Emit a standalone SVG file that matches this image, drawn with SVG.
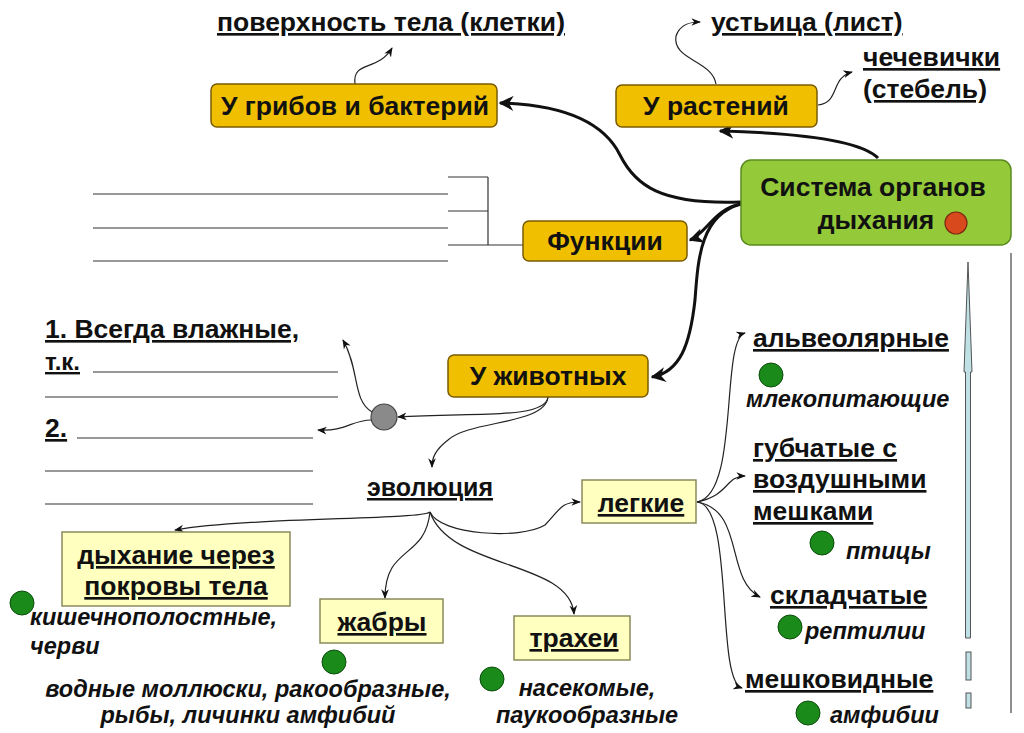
<svg xmlns="http://www.w3.org/2000/svg" width="1024" height="733" viewBox="0 0 1024 733">
<style>
text{font-family:"Liberation Sans",Arial,sans-serif;font-weight:bold;fill:#111}
.u{text-decoration:underline}
.it{font-style:italic;font-size:23.5px}
.h{font-size:26.5px}
.box{fill:#F0C000;stroke:#7a5a00;stroke-width:1.5}
.lbox{fill:#FFFFC0;stroke:#8a8a5a;stroke-width:1.5}
.thick{fill:none;stroke:#111;stroke-width:3}
.thin{fill:none;stroke:#222;stroke-width:1.2}
.gl{stroke:#333;stroke-width:1.2}
.gc{fill:#1a8a1a;stroke:#0d4d0d;stroke-width:1}
</style>
<defs>
<marker id="ah" viewBox="0 0 10 10" refX="9" refY="5" markerWidth="5" markerHeight="5" orient="auto" markerUnits="strokeWidth"><path d="M0,0 L10,5 L0,10 L3,5 z" fill="#111"/></marker>
<marker id="as" viewBox="0 0 10 10" refX="9" refY="5" markerWidth="8" markerHeight="8" orient="auto" markerUnits="strokeWidth"><path d="M0,1 L10,5 L0,9 L3,5 z" fill="#111"/></marker>
</defs>
<rect width="1024" height="733" fill="#fff"/>

<g id="connectors">
<path class="thick" marker-end="url(#ah)" d="M878,158 C860,140 800,133 720,131"/>
<path class="thick" marker-end="url(#ah)" d="M741,202 C660,205 635,185 620,155 C605,125 570,105 500,103"/>
<path class="thick" marker-end="url(#ah)" d="M741,204 C715,208 705,235 690,240"/>
<path class="thick" marker-end="url(#ah)" d="M741,204 C700,215 698,260 695,300 C690,345 680,372 652,377"/>
<path class="thin" marker-end="url(#as)" d="M355,84 C352,60 378,72 392,48"/>
<path class="thin" marker-end="url(#as)" d="M716,84 C712,60 672,60 676,36 C680,24 690,22 700,22"/>
<path class="thin" marker-end="url(#as)" d="M818,105 C840,103 830,78 852,72"/>
<path class="gl" d="M448,177 H488 M448,211 H488 M448,245 H523 M488,177 V245"/>
<path class="thin" marker-end="url(#as)" d="M548,397 C545,420 470,412 398,417"/>
<path class="thin" marker-end="url(#as)" d="M372,412 C352,400 360,370 343,340"/>
<path class="thin" marker-end="url(#as)" d="M371,420 C352,420 345,432 318,430"/>
<path class="thin" marker-end="url(#as)" d="M548,397 C545,425 470,420 448,440 C435,450 432,458 432,467"/>
<path class="thin" marker-end="url(#as)" d="M430,512 C420,520 250,517 175,530"/>
<path class="thin" marker-end="url(#as)" d="M430,512 C425,560 385,545 385,598"/>
<path class="thin" marker-end="url(#as)" d="M430,512 C450,570 570,560 574,614"/>
<path class="thin" marker-end="url(#as)" d="M430,512 C440,535 520,540 545,525 C560,510 560,502 580,502"/>
<path class="thin" marker-end="url(#as)" d="M697,502 C740,495 720,340 745,333"/>
<path class="thin" marker-end="url(#as)" d="M697,502 C730,495 725,476 745,476"/>
<path class="thin" marker-end="url(#as)" d="M697,502 C745,510 725,580 760,597"/>
<path class="thin" marker-end="url(#as)" d="M697,502 C735,505 715,680 742,688"/>
</g>

<g id="surface-label"><text class="h u" x="217" y="31">поверхность тела (клетки)</text></g>
<g id="fungi"><rect class="box" x="211" y="84" width="286" height="43" rx="6"/><text class="h" x="355" y="115" text-anchor="middle">У грибов и бактерий</text></g>
<g id="plants"><rect class="box" x="616" y="85" width="201" height="42" rx="6"/><text class="h" x="716" y="115" text-anchor="middle">У растений</text></g>
<g id="stomata"><text class="h u" x="711" y="31">устьица (лист)</text></g>
<g id="lenticels"><text class="h u" x="863" y="66">чечевички</text><text class="h u" x="863" y="98">(стебель)</text></g>
<g id="system"><rect x="741" y="160" width="270" height="85" rx="10" fill="#94C93A" stroke="#5a8a1e" stroke-width="1.5"/><text class="h" x="873" y="196" text-anchor="middle">Система органов</text><text class="h" x="876" y="229" text-anchor="middle">дыхания</text><circle cx="956" cy="223" r="11" fill="#D9491E" stroke="#7a2a10" stroke-width="1.2"/></g>
<g id="functions"><rect class="box" x="523" y="221" width="164" height="40" rx="6"/><text class="h" x="605" y="250" text-anchor="middle">Функции</text>
<path class="gl" d="M93,194 H448 M93,228 H448 M93,261 H448"/></g>
<g id="animals"><rect class="box" x="448" y="355" width="200" height="42" rx="6"/><text class="h" x="548" y="385" text-anchor="middle">У животных</text></g>
<g id="hub"><circle cx="384" cy="417" r="13" fill="#8a8a8a" stroke="#444" stroke-width="1.2"/></g>
<g id="notes">
<text class="h u" x="45" y="338">1. Всегда влажные,</text>
<text class="u" x="45" y="370" font-size="24">т.к.</text>
<path class="gl" d="M93,372 H338 M45,397 H338"/>
<text class="h u" x="45" y="437">2.</text>
<path class="gl" d="M77,438 H313 M45,471 H313 M45,504 H313"/>
</g>
<g id="evolution"><text class="u" x="430" y="496" font-size="25" text-anchor="middle">эволюция</text></g>
<g id="skin"><rect class="lbox" x="62" y="532" width="228" height="74"/><text class="h u" x="176" y="564" text-anchor="middle">дыхание через</text><text class="h u" x="176" y="595" text-anchor="middle">покровы тела</text>
<circle class="gc" cx="22" cy="603" r="12"/><text class="it" x="30" y="625">кишечнополостные,</text><text class="it" x="30" y="654">черви</text></g>
<g id="gills"><rect class="lbox" x="320" y="599" width="123" height="44"/><text class="h u" x="382" y="631" text-anchor="middle">жабры</text>
<circle class="gc" cx="334" cy="662" r="12"/><text class="it" x="248" y="697" text-anchor="middle">водные моллюски, ракообразные,</text><text class="it" x="248" y="723" text-anchor="middle">рыбы, личинки амфибий</text></g>
<g id="tracheae"><rect class="lbox" x="514" y="616" width="116" height="44"/><text class="h u" x="574" y="647" text-anchor="middle">трахеи</text>
<circle class="gc" cx="492" cy="679" r="12"/><text class="it" x="587" y="696" text-anchor="middle">насекомые,</text><text class="it" x="587" y="723" text-anchor="middle">паукообразные</text></g>
<g id="lungs"><rect class="lbox" x="582" y="480" width="114" height="43"/><text class="h u" x="641" y="512" text-anchor="middle">легкие</text></g>
<g id="alveolar"><text class="h u" x="753" y="347">альвеолярные</text><circle class="gc" cx="771" cy="375" r="12"/><text class="it" x="746" y="407">млекопитающие</text></g>
<g id="spongy"><text class="h u" x="753" y="457">губчатые с</text><text class="h u" x="753" y="488">воздушными</text><text class="h u" x="753" y="520">мешками</text><circle class="gc" cx="822" cy="543" r="12"/><text class="it" x="846" y="559">птицы</text></g>
<g id="folded"><text class="h u" x="770" y="604">складчатые</text><circle class="gc" cx="790" cy="627" r="12"/><text class="it" x="805" y="639">рептилии</text></g>
<g id="saccular"><text class="h u" x="745" y="688">мешковидные</text><circle class="gc" cx="808" cy="713" r="12"/><text class="it" x="830" y="723">амфибии</text></g>
<g id="scale">
<path d="M968,262 L972,372 L970.5,372 L970.5,638 L965.5,638 L965.5,372 L964,372 Z" fill="#BFE0E4" stroke="#555" stroke-width="1"/>
<rect x="966" y="652" width="5" height="28" fill="#BFE0E4" stroke="#555" stroke-width="1"/>
<rect x="966" y="693" width="5" height="15" fill="#BFE0E4" stroke="#555" stroke-width="1"/>
<path d="M1011,253 V713" stroke="#444" stroke-width="1.2"/>
</g>
</svg>
